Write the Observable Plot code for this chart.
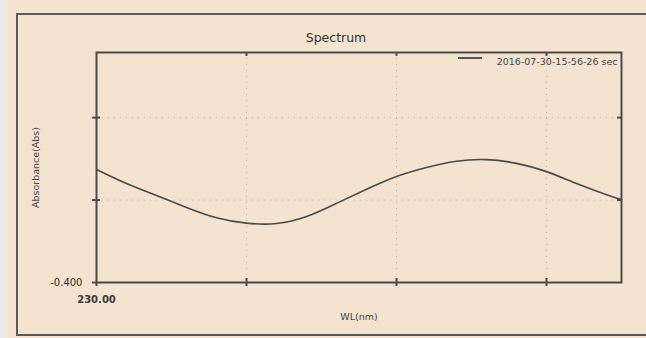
<!DOCTYPE html>
<html>
<head>
<meta charset="utf-8">
<script src="https://cdn.jsdelivr.net/npm/d3@7"></script>
<script src="https://cdn.jsdelivr.net/npm/@observablehq/plot@0.6"></script>
<style>
  html, body { margin: 0; padding: 0; overflow: hidden; }
  body { width: 646px; height: 338px; background: #f4e3cf; position: relative; font-family: "DejaVu Sans", sans-serif; }
  #strip { position: absolute; left: 0; top: 0; width: 8px; height: 338px; background: linear-gradient(to right, #ececec, #f1ebe4); }
  .edge { position: absolute; background: #5a5a5a; }
  #chart { position: absolute; left: 0; top: 0; }
  #swatch { position: absolute; left: 458px; top: 57px; width: 24px; height: 2px; background: #555; }
</style>
</head>
<body>
<div id="strip"></div>
<div class="edge" style="left:16px; top:13px; width:630px; height:2px;"></div>
<div class="edge" style="left:16px; top:13px; width:2px; height:323px;"></div>
<div class="edge" style="left:16px; top:334px; width:630px; height:2px;"></div>
<div id="chart"></div>
<div id="swatch"></div>
<script>
// Data
const wavelengths = [230, 240, 250, 260, 270, 280, 290, 300, 310, 320, 330, 340, 350, 360, 370, 380, 390, 400, 405];
const absorbance  = [-0.126, -0.160, -0.189, -0.218, -0.243, -0.256, -0.257, -0.240, -0.208, -0.174, -0.143, -0.121, -0.106, -0.102, -0.111, -0.131, -0.160, -0.187, -0.199];
const xTicks = [230, 280, 330, 380];
const yTicks = [-0.4, -0.2, 0.0];
const titleText = "Spectrum";
const seriesName = "2016-07-30-15-56-26 sec";
const xLabel = "WL(nm)";
const yLabel = "Absorbance(Abs)";

const data = wavelengths.map((w, i) => ({wl: w, abs: absorbance[i]}));
const ink = "#444";

const chart = Plot.plot({
  width: 646,
  height: 338,
  marginLeft: 96,
  marginRight: 25,
  marginTop: 52,
  marginBottom: 56,
  style: {background: "transparent", fontFamily: "DejaVu Sans, sans-serif", color: ink, overflow: "visible"},
  x: {domain: [230, 405], label: null},
  y: {domain: [-0.4, 0.158], label: null},
  marks: [
    Plot.gridX(xTicks.slice(1), {stroke: "#8a8070", strokeOpacity: 0.4, strokeDasharray: "1,5"}),
    Plot.gridY(yTicks.slice(1), {stroke: "#8a8070", strokeOpacity: 0.4, strokeDasharray: "1,5"}),
    Plot.frame({stroke: "#4a4a4a", strokeWidth: 2}),
    Plot.axisX(xTicks, {anchor: "bottom", tickSize: 4, tickPadding: 9, stroke: "#4a4a4a", strokeWidth: 2, fontSize: 10, fontWeight: "bold", fill: "#3a3a3a",
      tickFormat: d => d === 230 ? d.toFixed(2) : ""}),
    Plot.axisY(yTicks, {anchor: "left", tickSize: 4, tickPadding: 10, stroke: "#4a4a4a", strokeWidth: 2, fontSize: 10, fill: "#2a2a2a",
      tickFormat: d => d === -0.4 ? d.toFixed(3) : ""}),
    Plot.tickX(xTicks.slice(1), {x: d => d, insetTop: 226, stroke: "#4a4a4a", strokeWidth: 2}),
    Plot.tickX(xTicks.slice(1), {x: d => d, insetBottom: 226, stroke: "#4a4a4a", strokeWidth: 2}),
    Plot.tickY(yTicks.slice(1), {y: d => d, insetRight: 521, stroke: "#4a4a4a", strokeWidth: 2}),
    Plot.tickY(yTicks.slice(1), {y: d => d, insetLeft: 521, stroke: "#4a4a4a", strokeWidth: 2}),
    Plot.line(data, {x: "wl", y: "abs", curve: "natural", stroke: "#4a4a4a", strokeWidth: 1.6}),
    Plot.text([titleText], {frameAnchor: "top", dx: -23, dy: -19, fontSize: 12.5, fill: "#333"}),
    Plot.text([seriesName], {frameAnchor: "top-right", dx: -4, dy: 6, textAnchor: "end", fontSize: 9.5, fill: "#444"}),
    Plot.text([xLabel], {frameAnchor: "bottom", dy: 37, fontSize: 9.5, fill: "#444"}),
    Plot.text([yLabel], {frameAnchor: "left", dx: -61, rotate: -90, textAnchor: "middle", fontSize: 9.5, fill: "#444"})
  ]
});
document.getElementById("chart").appendChild(chart);
</script>
</body>
</html>
